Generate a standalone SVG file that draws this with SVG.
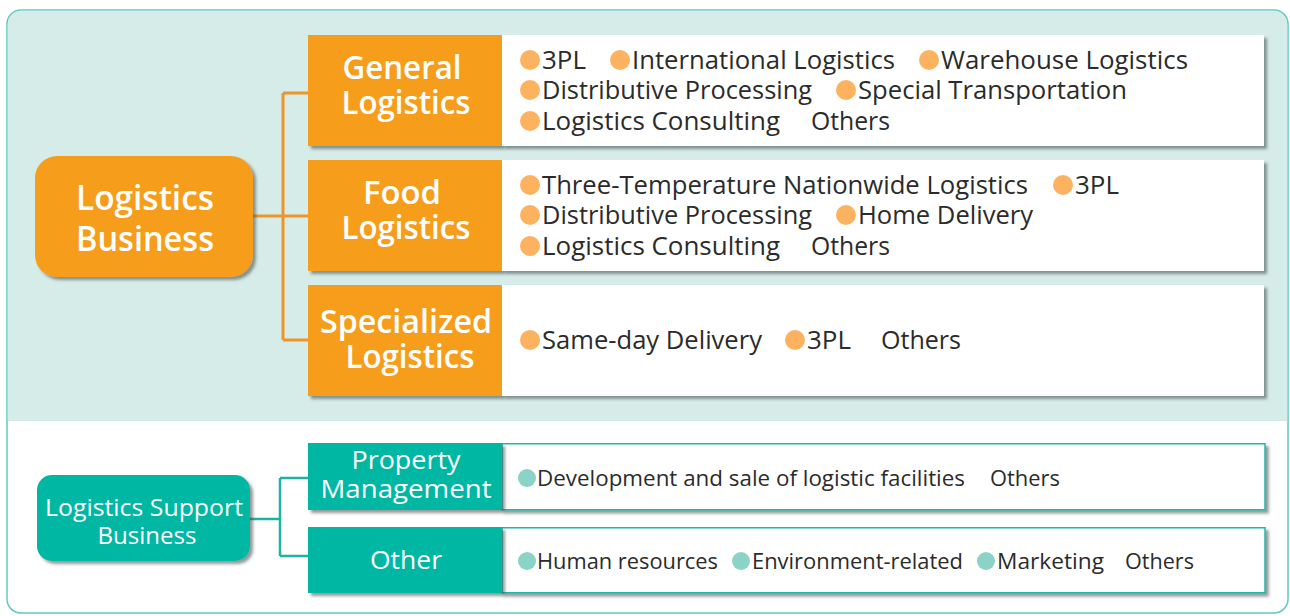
<svg xmlns="http://www.w3.org/2000/svg" width="1290" height="616" viewBox="0 0 1290 616">
<defs>
<filter id="sh" x="-5%" y="-10%" width="115%" height="130%">
<feDropShadow dx="3" dy="3" stdDeviation="1.6" flood-color="#3a4a48" flood-opacity="0.55"/>
</filter>
<style>
.frame{fill:#ffffff;stroke:#5ecac4;stroke-width:1.5}
.band{fill:#d6ece8}
.onode{fill:#f69e1f}
.tnode{fill:#04b7a4}
.wbox{fill:#ffffff}
.wboxt{fill:#ffffff;stroke:#1cb9a8;stroke-width:1.5}
.oline{fill:none;stroke:#ef9428;stroke-width:3}
.tline{fill:none;stroke:#1cb3a3;stroke-width:2.5}
.ttl{font-family:"Open Sans","Noto Sans","DejaVu Sans",sans-serif;fill:#ffffff;text-anchor:middle}
.b{font-weight:600}
.item{font-family:"Open Sans","Noto Sans","DejaVu Sans",sans-serif;fill:#2b2b2b;font-size:25px}
.item2{font-family:"Open Sans","Noto Sans","DejaVu Sans",sans-serif;fill:#2b2b2b;font-size:21px}
.ob{fill:#fdb25f}
.tb{fill:#8bd3c6}
</style>
</defs>

<g id="background">
<rect class="frame" x="7" y="10" width="1281" height="603" rx="14"/>
<path class="band" d="M21,10.75 H1274 A13.25,13.25 0 0 1 1287.25,24 V421 H7.75 V24 A13.25,13.25 0 0 1 21,10.75 Z"/>
</g>

<g id="connectors">
<path class="oline" d="M253,216 H283 M283,93 V340 M283,93 H308 M283,216 H308 M283,340 H308"/>
<path class="tline" d="M250,519 H280 M280,478 V556 M280,478 H308 M280,556 H308"/>
</g>

<g id="logistics-business">
<rect class="onode" x="35" y="156" width="218" height="121" rx="22" filter="url(#sh)"/>
<text class="ttl b" x="145" y="210" font-size="34" textLength="138" lengthAdjust="spacingAndGlyphs">Logistics</text>
<text class="ttl b" x="145" y="251" font-size="34" textLength="138" lengthAdjust="spacingAndGlyphs">Business</text>
</g>

<g id="general-logistics">
<rect class="onode" x="308" y="35" width="194" height="111" filter="url(#sh)"/>
<rect class="wbox" x="502" y="35" width="762" height="111" filter="url(#sh)"/>
<text class="ttl b" x="402" y="79" font-size="32" textLength="119" lengthAdjust="spacingAndGlyphs">General</text>
<text class="ttl b" x="406" y="114" font-size="32" textLength="129" lengthAdjust="spacingAndGlyphs">Logistics</text>
<circle class="ob" cx="530" cy="60" r="10"/><text class="item" x="542" y="69" textLength="44" lengthAdjust="spacingAndGlyphs">3PL</text>
<circle class="ob" cx="620" cy="60" r="10"/><text class="item" x="632" y="69" textLength="263" lengthAdjust="spacingAndGlyphs">International Logistics</text>
<circle class="ob" cx="929" cy="60" r="10"/><text class="item" x="941" y="69" textLength="247" lengthAdjust="spacingAndGlyphs">Warehouse Logistics</text>
<circle class="ob" cx="530" cy="90" r="10"/><text class="item" x="542" y="99" textLength="270" lengthAdjust="spacingAndGlyphs">Distributive Processing</text>
<circle class="ob" cx="846" cy="90" r="10"/><text class="item" x="858" y="99" textLength="269" lengthAdjust="spacingAndGlyphs">Special Transportation</text>
<circle class="ob" cx="530" cy="121" r="10"/><text class="item" x="542" y="130" textLength="238" lengthAdjust="spacingAndGlyphs">Logistics Consulting</text>
<text class="item" x="811" y="130" textLength="79" lengthAdjust="spacingAndGlyphs">Others</text>
</g>

<g id="food-logistics">
<rect class="onode" x="308" y="160" width="194" height="111" filter="url(#sh)"/>
<rect class="wbox" x="502" y="160" width="762" height="111" filter="url(#sh)"/>
<text class="ttl b" x="402" y="204" font-size="32" textLength="78" lengthAdjust="spacingAndGlyphs">Food</text>
<text class="ttl b" x="406" y="239" font-size="32" textLength="129" lengthAdjust="spacingAndGlyphs">Logistics</text>
<circle class="ob" cx="530" cy="185" r="10"/><text class="item" x="542" y="194" textLength="486" lengthAdjust="spacingAndGlyphs">Three-Temperature Nationwide Logistics</text>
<circle class="ob" cx="1063" cy="185" r="10"/><text class="item" x="1075" y="194" textLength="44" lengthAdjust="spacingAndGlyphs">3PL</text>
<circle class="ob" cx="530" cy="215" r="10"/><text class="item" x="542" y="224" textLength="270" lengthAdjust="spacingAndGlyphs">Distributive Processing</text>
<circle class="ob" cx="846" cy="215" r="10"/><text class="item" x="858" y="224" textLength="175" lengthAdjust="spacingAndGlyphs">Home Delivery</text>
<circle class="ob" cx="530" cy="246" r="10"/><text class="item" x="542" y="255" textLength="238" lengthAdjust="spacingAndGlyphs">Logistics Consulting</text>
<text class="item" x="811" y="255" textLength="79" lengthAdjust="spacingAndGlyphs">Others</text>
</g>

<g id="specialized-logistics">
<rect class="onode" x="308" y="285" width="194" height="111" filter="url(#sh)"/>
<rect class="wbox" x="502" y="285" width="762" height="111" filter="url(#sh)"/>
<text class="ttl b" x="406" y="333" font-size="32" textLength="172" lengthAdjust="spacingAndGlyphs">Specialized</text>
<text class="ttl b" x="410" y="368" font-size="32" textLength="129" lengthAdjust="spacingAndGlyphs">Logistics</text>
<circle class="ob" cx="530" cy="340" r="10"/><text class="item" x="542" y="349" textLength="220" lengthAdjust="spacingAndGlyphs">Same-day Delivery</text>
<circle class="ob" cx="795" cy="340" r="10"/><text class="item" x="807" y="349" textLength="44" lengthAdjust="spacingAndGlyphs">3PL</text>
<text class="item" x="881" y="349" textLength="80" lengthAdjust="spacingAndGlyphs">Others</text>
</g>

<g id="logistics-support-business">
<rect class="tnode" x="37" y="475" width="213" height="86" rx="15" filter="url(#sh)"/>
<text class="ttl" x="144" y="516" font-size="24" textLength="198" lengthAdjust="spacingAndGlyphs">Logistics Support</text>
<text class="ttl" x="147" y="544" font-size="24" textLength="99" lengthAdjust="spacingAndGlyphs">Business</text>
</g>

<g id="property-management">
<rect class="wboxt" x="502" y="443.75" width="763" height="66" filter="url(#sh)"/>
<rect class="tnode" x="308" y="443" width="194" height="67" filter="url(#sh)"/>
<text class="ttl" x="406" y="469" font-size="25" textLength="109" lengthAdjust="spacingAndGlyphs">Property</text>
<text class="ttl" x="406" y="498" font-size="25" textLength="171" lengthAdjust="spacingAndGlyphs">Management</text>
<circle class="tb" cx="527" cy="478" r="9"/><text class="item2" x="537" y="486" textLength="428" lengthAdjust="spacingAndGlyphs">Development and sale of logistic facilities</text>
<text class="item2" x="990" y="486" textLength="70" lengthAdjust="spacingAndGlyphs">Others</text>
</g>

<g id="other">
<rect class="wboxt" x="502" y="527.75" width="763" height="65" filter="url(#sh)"/>
<rect class="tnode" x="308" y="527" width="194" height="66" filter="url(#sh)"/>
<text class="ttl" x="406" y="569" font-size="25" textLength="72" lengthAdjust="spacingAndGlyphs">Other</text>
<circle class="tb" cx="527" cy="561" r="9"/><text class="item2" x="537" y="569" textLength="181" lengthAdjust="spacingAndGlyphs">Human resources</text>
<circle class="tb" cx="741" cy="561" r="9"/><text class="item2" x="752" y="569" textLength="211" lengthAdjust="spacingAndGlyphs">Environment-related</text>
<circle class="tb" cx="986" cy="561" r="9"/><text class="item2" x="997" y="569" textLength="107" lengthAdjust="spacingAndGlyphs">Marketing</text>
<text class="item2" x="1125" y="569" textLength="69" lengthAdjust="spacingAndGlyphs">Others</text>
</g>
</svg>
